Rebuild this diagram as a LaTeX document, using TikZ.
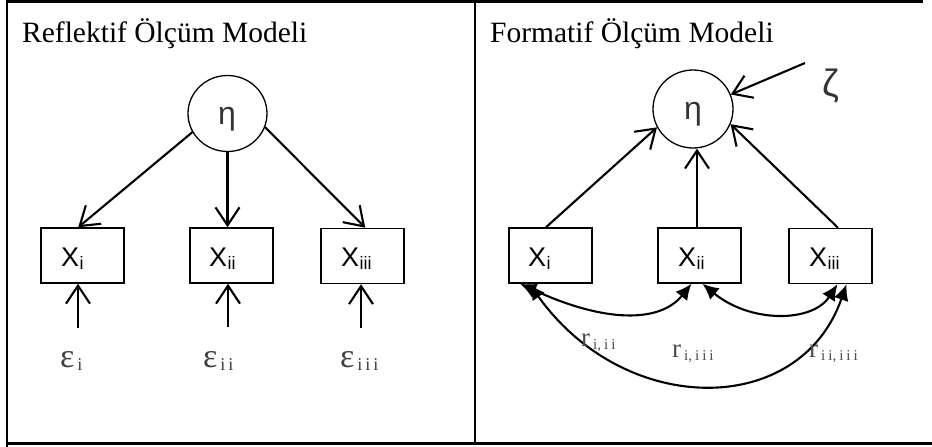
\documentclass[tikz,border=0pt]{standalone}
\usepackage{fontspec}
\setmainfont{Liberation Serif}
\newfontfamily\arialf{Liberation Sans}
\usetikzlibrary{arrows.meta,shapes.geometric}
\newcommand\lsp{\kern3pt}
\newcommand\xsub[1]{X\kern0.5pt{\fontsize{18}{18}\selectfont\raisebox{-3pt}{#1}}}
\newcommand\esub[1]{\kern3pt{\fontsize{18}{18}\selectfont\raisebox{-3pt}{#1}}}
\newcommand\rsub[1]{\kern3pt{\fontsize{15}{15}\selectfont\raisebox{-3pt}{#1}}}
\begin{document}
\begin{tikzpicture}[x=1pt,y=-1pt,
  frame/.style={line width=2.4pt},
  latent/.style={draw,ellipse,line width=1.3pt,minimum width=79pt,minimum height=76pt,inner sep=0pt},
  ind/.style={draw,rectangle,line width=1.5pt,minimum width=83pt,minimum height=55pt,inner sep=0pt},
  openarr/.style={line width=2.1pt,-{Straight Barb[length=18pt,width=24pt,line width=2.1pt]}},
  cov/.style={line width=2.1pt,{Latex[length=16pt,width=15pt]}-{Latex[length=16pt,width=15pt]}},
  title/.style={anchor=base west,inner sep=0pt,font=\fontsize{29.5}{29.5}\selectfont},
  xlab/.style={anchor=base west,inner sep=0pt,font=\arialf\fontsize{27}{27}\selectfont},
  glab/.style={inner sep=0pt,text=black!80,font=\arialf\fontsize{32}{32}\selectfont},
  elab/.style={anchor=base west,inner sep=0pt,text=black!75,font=\fontsize{34}{34}\selectfont},
  rlab/.style={anchor=base west,inner sep=0pt,text=black!70,font=\fontsize{27}{27}\selectfont},
]
\useasboundingbox (0,0) rectangle (932,447);
% frame
\draw[frame] (7,447) -- (7,1.5) -- (923,1.5);
\draw[frame] (7,443.5) -- (932,443.5);
\draw[frame] (475,1.5) -- (475,443.5);

% ---------- left panel ----------
\node[title] (tl) at (22,42) {Reflektif Ölçüm Modeli};
\node[latent] (rEta) at (227.5,113.5) {};
\node[glab] (rEtaL) at (227,119) {η};
\node[ind] (rXi) at (82.5,255.5) {};
\node[ind] (rXii) at (231.5,255.5) {};
\node[ind] (rXiii) at (362.5,256) {};
\node[xlab] (lrXi) at (61,266) {\xsub{i}};
\node[xlab] (lrXii) at (209,266) {\xsub{ii}};
\node[xlab] (lrXiii) at (341,266) {\xsub{iii}};
\draw[openarr] (rEta.208) -- ([xshift=38pt]rXi.north west);
\draw[openarr] (rEta.south) -- (rEta.south |- rXii.north);
\draw[openarr] (rEta.-20) -- ([xshift=45pt]rXiii.north west);
\coordinate (e1) at (78,328);
\coordinate (e2) at (228,327);
\coordinate (e3) at (361,328);
\draw[openarr] (e1) -- (e1 |- rXi.south);
\draw[openarr] (e2) -- (e2 |- rXii.south);
\draw[openarr] (e3) -- (e3 |- rXiii.south);
\node[elab] (eps1) at (60,367) {ε\esub{i}};
\node[elab] (eps2) at (203,367) {ε\esub{i\lsp i}};
\node[elab] (eps3) at (340,367) {ε\esub{i\lsp i\lsp i}};

% ---------- right panel ----------
\node[title] (tr) at (490,42) {Formatif Ölçüm Modeli};
\node[latent,minimum width=80pt,minimum height=78pt] (fEta) at (693,109) {};
\node[glab] (fEtaL) at (693,114) {η};
\node[glab,font=\arialf\fontsize{38}{38}\selectfont] (zeta) at (831,86) {ζ};
\coordinate (z0) at (805,63);
\draw[openarr] (z0) -- (fEta.21);
\node[ind] (fXi) at (550.5,255.5) {};
\node[ind] (fXii) at (699.5,255.5) {};
\node[ind] (fXiii) at (830.5,256) {};
\node[xlab] (lfXi) at (528,266) {\xsub{i}};
\node[xlab] (lfXii) at (678,266) {\xsub{ii}};
\node[xlab] (lfXiii) at (809,266) {\xsub{iii}};
\draw[openarr] ([xshift=-4.5pt]fXi.north) -- (fEta.207);
\draw[openarr] ([xshift=-2.5pt]fXii.north) -- ([xshift=-2.5pt]fXii.north |- fEta.south);
\draw[openarr] ([xshift=7.5pt]fXiii.north) -- (fEta.338);
% correlations
\draw[cov] ([xshift=12pt]fXi.south west) .. controls (605,323) and (660,323) .. ([xshift=-8pt]fXii.south);
\draw[cov] ([xshift=3pt]fXii.south) .. controls (750,323) and (812,323) .. ([xshift=7pt]fXiii.south);
\draw[cov] ([xshift=21pt]fXi.south west) .. controls (625,418) and (800,418) .. ([xshift=16pt]fXiii.south);
\node[rlab] (r1) at (581,346) {r\rsub{i,\lsp i\lsp i}};
\node[rlab] (r2) at (672,357) {r\rsub{i,\lsp i\lsp i\lsp i}};
\node[rlab] (r3) at (809,357) {r\rsub{i\lsp i,\lsp i\lsp i\lsp i}};
\end{tikzpicture}
\end{document}
